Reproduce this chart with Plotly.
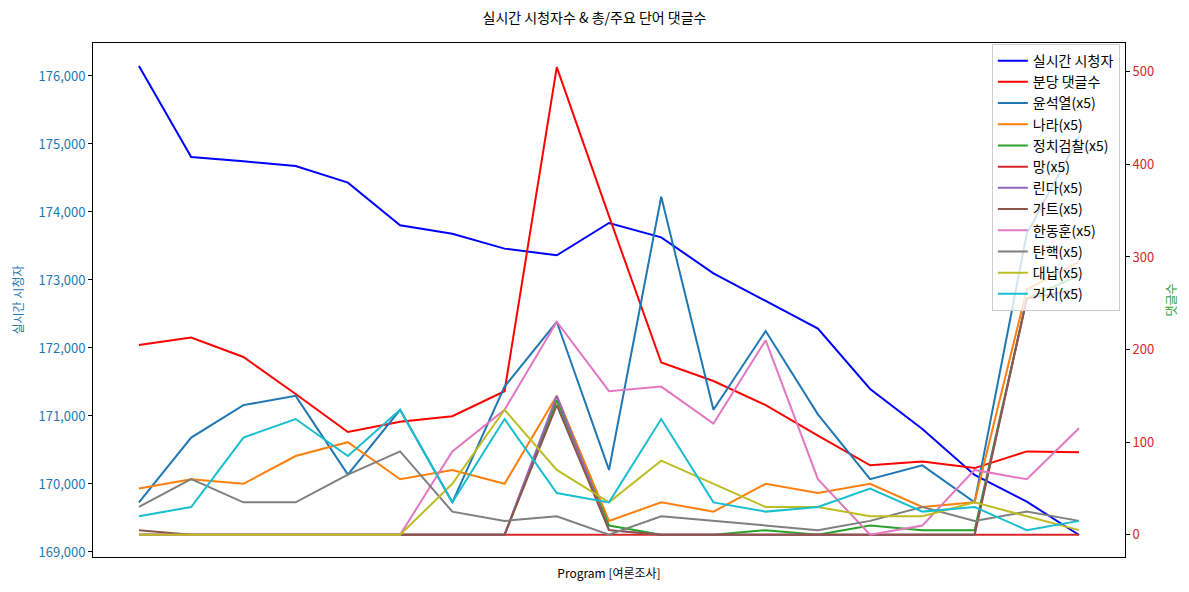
import plotly.graph_objects as go

x_idx = list(range(19))

viewers = [176147, 174809, 174745, 174676, 174431, 173804, 173681, 173461, 173363,
           173838, 173627, 173098, 172691, 172284, 171397, 170809, 170132, 169740, 169250]
comments_per_min = [205, 213, 192, 152, 111, 122, 128, 155, 505, 344, 186, 166, 140,
                    107, 75, 79, 72, 90, 89]

kw_names = ["윤석열(x5)", "나라(x5)", "정치검찰(x5)", "망(x5)", "린다(x5)", "가트(x5)",
            "한동훈(x5)", "탄핵(x5)", "대납(x5)", "거지(x5)"]
kw_yoon = [35, 105, 140, 150, 65, 135, 35, 160, 230, 70, 365, 135, 220, 130, 60, 75, 35, 325, 430]
kw_nara = [50, 60, 55, 85, 100, 60, 70, 55, 150, 15, 35, 25, 55, 45, 55, 30, 35, 265, 295]
kw_jeongchi = [0, 0, 0, 0, 0, 0, 0, 0, 145, 10, 0, 0, 5, 0, 10, 5, 5, 255, 280]
kw_mang = [0] * 19
kw_linda = [0, 0, 0, 0, 0, 0, 0, 0, 150, 5, 0, 0, 0, 0, 0, 0, 0, 255, 265]
kw_gateu = [5, 0, 0, 0, 0, 0, 0, 0, 140, 5, 0, 0, 0, 0, 0, 0, 0, 255, 265]
kw_han = [0, 0, 0, 0, 0, 0, 90, 135, 230, 155, 160, 120, 210, 60, 0, 10, 70, 60, 115]
kw_tanhaek = [30, 60, 35, 35, 65, 90, 25, 15, 20, 0, 20, 15, 10, 5, 15, 30, 15, 25, 15]
kw_daenap = [0, 0, 0, 0, 0, 0, 55, 135, 70, 35, 80, 55, 30, 30, 20, 20, 35, 20, 5]
kw_geoji = [20, 30, 105, 125, 85, 135, 35, 125, 45, 35, 125, 35, 25, 30, 50, 25, 30, 5, 15]
kw_values = [kw_yoon, kw_nara, kw_jeongchi, kw_mang, kw_linda, kw_gateu, kw_han,
             kw_tanhaek, kw_daenap, kw_geoji]
kw_colors = ["#1f77b4", "#ff7f0e", "#2ca02c", "#d62728", "#9467bd", "#8c564b",
             "#e377c2", "#7f7f7f", "#bcbd22", "#17becf"]

left_ticks = [169000, 170000, 171000, 172000, 173000, 174000, 175000, 176000]
right_ticks = [0, 100, 200, 300, 400, 500]

FONT = "Noto Sans CJK KR, Noto Sans, sans-serif"

fig = go.Figure()
fig.add_trace(go.Scatter(x=x_idx, y=viewers, mode="lines", name="실시간 시청자",
                         line=dict(color="blue", width=2), yaxis="y"))
fig.add_trace(go.Scatter(x=x_idx, y=comments_per_min, mode="lines", name="분당 댓글수",
                         line=dict(color="red", width=2), yaxis="y2"))
for name, vals, col in zip(kw_names, kw_values, kw_colors):
    fig.add_trace(go.Scatter(x=x_idx, y=vals, mode="lines", name=name,
                             line=dict(color=col, width=2), yaxis="y2"))

fig.update_layout(
    width=1189, height=592,
    margin=dict(l=93, r=64, t=43, b=35),
    paper_bgcolor="white", plot_bgcolor="white",
    font=dict(family=FONT, size=13, color="black"),
    title=dict(text="실시간 시청자수 & 총/주요 단어 댓글수", x=0.5, xanchor="center",
               y=1 - 18 / 592, yanchor="middle", yref="container",
               font=dict(size=14, color="black")),
    xaxis=dict(range=[-0.88, 18.88], showticklabels=False, ticks="", showgrid=False,
               zeroline=False, showline=True, linecolor="black", linewidth=1, mirror=True,
               title=dict(text="Program [여론조사]", standoff=12,
                          font=dict(size=12, color="black"))),
    yaxis=dict(range=[168926, 176485], tickvals=left_ticks, tickformat=",",
               ticks="outside", ticklen=4, tickcolor="black", showgrid=False, zeroline=False,
               showline=True, linecolor="black", linewidth=1,
               tickfont=dict(size=13, color="#1f77b4"),
               title=dict(text="실시간 시청자", standoff=12,
                          font=dict(size=12, color="#1f77b4"))),
    yaxis2=dict(range=[-24, 531], tickvals=right_ticks, overlaying="y", side="right",
                ticks="outside", ticklen=4, tickcolor="black", showgrid=False, zeroline=False,
                showline=True, linecolor="black", linewidth=1,
                tickfont=dict(size=13, color="#d62728"),
                title=dict(text="댓글수", standoff=14,
                           font=dict(size=12, color="#2ca02c"))),
    legend=dict(x=0.995, xanchor="right", y=0.998, yanchor="top",
                bgcolor="rgba(255,255,255,0.8)", bordercolor="#cccccc", borderwidth=1,
                font=dict(size=14, color="black"), itemwidth=30, tracegroupgap=0),
    showlegend=True,
)

fig.write_html("out.html")
